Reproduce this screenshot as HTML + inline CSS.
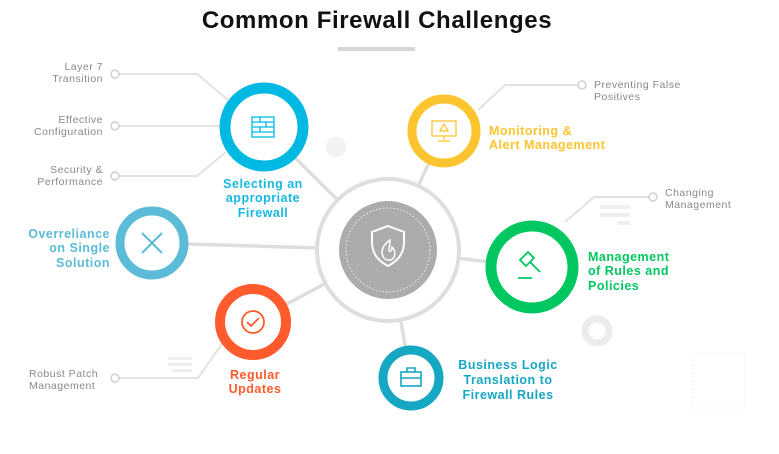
<!DOCTYPE html>
<html><head><meta charset="utf-8"><style>
body{margin:0;background:#fff;}
svg{display:block}
text{font-family:"Liberation Sans",sans-serif}
</style></head><body>
<svg width="779" height="454" viewBox="0 0 779 454" xmlns="http://www.w3.org/2000/svg">
<text x="377" y="28" text-anchor="middle" font-size="24" font-weight="bold" letter-spacing="0.6" fill="#111">Common Firewall Challenges</text>
<rect x="338" y="47" width="77" height="4" fill="#d6d6d6"/>

<g stroke="#e2e2e2" stroke-width="2" fill="none">
<polyline points="119,74 197,74 228,100"/>
<polyline points="119,126 220,126"/>
<polyline points="119,176 197,176 226,152"/>
<polyline points="578,85 505,85 478,110"/>
<polyline points="649,197 594,197 565,222"/>
<polyline points="119,378 198,378 226,338"/>
</g>
<g fill="#fff" stroke="#d0d0d0" stroke-width="1.5">
<circle cx="115" cy="74" r="4"/><circle cx="115" cy="126" r="4"/><circle cx="115" cy="176" r="4"/>
<circle cx="582" cy="85" r="4"/><circle cx="653" cy="197" r="4"/><circle cx="115" cy="378" r="4"/>
</g>

<g stroke="#dedede" stroke-width="3.5">
<line x1="264" y1="127" x2="388" y2="250"/>
<line x1="152" y1="243" x2="388" y2="250"/>
<line x1="444" y1="131" x2="388" y2="250"/>
<line x1="532" y1="267" x2="388" y2="250"/>
<line x1="253" y1="322" x2="388" y2="250"/>
<line x1="411" y1="378" x2="388" y2="250"/>
</g>
<circle cx="388" cy="250" r="71" fill="#fff" stroke="#dedede" stroke-width="4"/>
<circle cx="388" cy="250" r="49" fill="#acacac"/>
<circle cx="388" cy="250" r="42" fill="none" stroke="#eee" stroke-width="1" stroke-dasharray="1.5 2"/>
<path d="M388 226 l16 6 v10 c0 13 -8 20 -16 24 c-8 -4 -16 -11 -16 -24 v-10z" fill="none" stroke="#fff" stroke-width="2"/>
<path d="M390 240 c-8 6 -10 12 -6 18 c3 3 8 3 10 -1 c2 -4 0 -8 -2 -10 c0 4 -2 5 -3 4 c0 -4 1 -7 1 -11z" fill="none" stroke="#fff" stroke-width="1.5"/>

<circle cx="336" cy="147" r="10" fill="#f2f2f2"/>
<g fill="#eee"><rect x="600" y="205" width="30" height="4"/><rect x="600" y="213" width="30" height="4"/><rect x="618" y="221" width="12" height="4"/>
<rect x="168" y="357" width="24" height="3"/><rect x="168" y="363" width="24" height="3"/><rect x="172" y="369" width="20" height="3"/></g>
<circle cx="597" cy="331" r="12" fill="none" stroke="#ececec" stroke-width="7"/>
<rect x="693" y="354" width="52" height="54" fill="none" stroke="#eee" stroke-dasharray="2 2"/>

<g fill="#fff">
<circle cx="264" cy="127" r="39" stroke="#00b9e2" stroke-width="11"/>
<circle cx="152" cy="243" r="32" stroke="#5cbcd7" stroke-width="9"/>
<circle cx="444" cy="131" r="32" stroke="#fcc42f" stroke-width="9"/>
<circle cx="532" cy="267" r="41" stroke="#00c760" stroke-width="11"/>
<circle cx="253" cy="322" r="33" stroke="#ff5b2d" stroke-width="10"/>
<circle cx="411" cy="378" r="28" stroke="#16a7c2" stroke-width="9"/>
</g>
<g fill="none" stroke-width="1.3">
<rect x="252" y="117" width="22" height="20" stroke="#00b9e2"/>
<path d="M252 122h22M252 127h22M252 132h22M260 117v5M266 122v5M260 127v5" stroke="#00b9e2"/>
<g stroke="#5cbcd7" stroke-width="2"><line x1="142" y1="233" x2="162" y2="253"/><line x1="162" y1="233" x2="142" y2="253"/></g>
<rect x="432" y="121" width="24" height="15" stroke="#fcc42f"/><path d="M444 136v4M438 141h12M440 131l4-7 4 7z" stroke="#fcc42f"/>
<path d="M520 260l8-8 6 6-8 8zM530 262l10 10M518 278h14" stroke="#00c760" stroke-width="1.8"/>
<circle cx="253" cy="322" r="11" stroke="#ff5b2d" stroke-width="1.8"/><path d="M247 322l4 4 8-8" stroke="#ff5b2d" stroke-width="1.8"/>
<rect x="401" y="372" width="20" height="14" stroke="#16a7c2" stroke-width="1.6"/><path d="M407 372v-4h8v4M401 378h20" stroke="#16a7c2" stroke-width="1.6"/>
</g>

<g font-size="10.5" fill="#888" text-anchor="end" letter-spacing="0.5">
<text x="103" y="70">Layer 7</text><text x="103" y="82">Transition</text>
<text x="103" y="123">Effective</text><text x="103" y="135">Configuration</text>
<text x="103" y="173">Security &amp;</text><text x="103" y="185">Performance</text>
</g>
<g font-size="10.5" fill="#888" letter-spacing="0.5">
<text x="594" y="88">Preventing False</text><text x="594" y="100">Positives</text>
<text x="665" y="196">Changing</text><text x="665" y="208">Management</text>
<text x="29" y="377">Robust Patch</text><text x="29" y="389">Management</text>
</g>
<g font-size="12.5" font-weight="bold" letter-spacing="0.5">
<text x="263" y="188" text-anchor="middle" fill="#19b8e0">Selecting an</text>
<text x="263" y="202" text-anchor="middle" fill="#19b8e0">appropriate</text>
<text x="263" y="217" text-anchor="middle" fill="#19b8e0">Firewall</text>
<text x="110" y="238" text-anchor="end" fill="#5cbcd7">Overreliance</text>
<text x="110" y="252" text-anchor="end" fill="#5cbcd7">on Single</text>
<text x="110" y="267" text-anchor="end" fill="#5cbcd7">Solution</text>
<text x="489" y="135" fill="#fcc42f">Monitoring &amp;</text>
<text x="489" y="149" fill="#fcc42f">Alert Management</text>
<text x="588" y="261" fill="#00c760">Management</text>
<text x="588" y="275" fill="#00c760">of Rules and</text>
<text x="588" y="290" fill="#00c760">Policies</text>
<text x="255" y="379" text-anchor="middle" fill="#ff5b2d">Regular</text>
<text x="255" y="393" text-anchor="middle" fill="#ff5b2d">Updates</text>
<text x="508" y="369" text-anchor="middle" fill="#16a7c2">Business Logic</text>
<text x="508" y="384" text-anchor="middle" fill="#16a7c2">Translation to</text>
<text x="508" y="399" text-anchor="middle" fill="#16a7c2">Firewall Rules</text>
</g>
</svg>
</body></html>
